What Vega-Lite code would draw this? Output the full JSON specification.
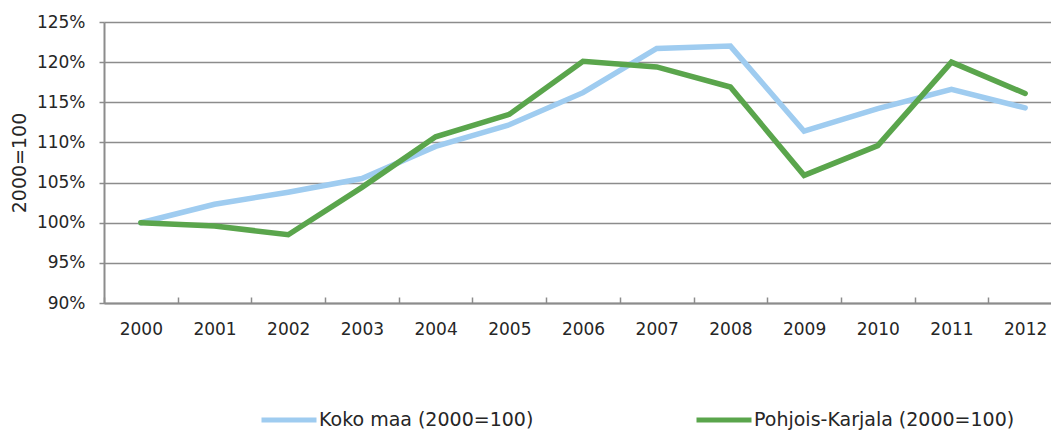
{
  "$schema": "https://vega.github.io/schema/vega-lite/v6.json",
  "width": 958,
  "height": 281,
  "autosize": {"type": "none"},
  "padding": {"left": 104, "top": 22, "right": 0, "bottom": 127},
  "background": "white",
  "config": {"view": {"stroke": null}, "font": "DejaVu Sans"},
  "data": {
    "values": [
      {"year": "2000", "series": "Koko maa (2000=100)", "value": 100.0},
      {"year": "2001", "series": "Koko maa (2000=100)", "value": 102.3},
      {"year": "2002", "series": "Koko maa (2000=100)", "value": 103.8},
      {"year": "2003", "series": "Koko maa (2000=100)", "value": 105.5},
      {"year": "2004", "series": "Koko maa (2000=100)", "value": 109.5},
      {"year": "2005", "series": "Koko maa (2000=100)", "value": 112.2},
      {"year": "2006", "series": "Koko maa (2000=100)", "value": 116.2},
      {"year": "2007", "series": "Koko maa (2000=100)", "value": 121.7},
      {"year": "2008", "series": "Koko maa (2000=100)", "value": 122.0},
      {"year": "2009", "series": "Koko maa (2000=100)", "value": 111.4},
      {"year": "2010", "series": "Koko maa (2000=100)", "value": 114.2},
      {"year": "2011", "series": "Koko maa (2000=100)", "value": 116.6},
      {"year": "2012", "series": "Koko maa (2000=100)", "value": 114.3},
      {"year": "2000", "series": "Pohjois-Karjala (2000=100)", "value": 100.0},
      {"year": "2001", "series": "Pohjois-Karjala (2000=100)", "value": 99.6},
      {"year": "2002", "series": "Pohjois-Karjala (2000=100)", "value": 98.5},
      {"year": "2003", "series": "Pohjois-Karjala (2000=100)", "value": 104.4},
      {"year": "2004", "series": "Pohjois-Karjala (2000=100)", "value": 110.7},
      {"year": "2005", "series": "Pohjois-Karjala (2000=100)", "value": 113.5},
      {"year": "2006", "series": "Pohjois-Karjala (2000=100)", "value": 120.1},
      {"year": "2007", "series": "Pohjois-Karjala (2000=100)", "value": 119.4},
      {"year": "2008", "series": "Pohjois-Karjala (2000=100)", "value": 116.9},
      {"year": "2009", "series": "Pohjois-Karjala (2000=100)", "value": 105.9},
      {"year": "2010", "series": "Pohjois-Karjala (2000=100)", "value": 109.6},
      {"year": "2011", "series": "Pohjois-Karjala (2000=100)", "value": 120.0},
      {"year": "2012", "series": "Pohjois-Karjala (2000=100)", "value": 116.1}
    ]
  },
  "mark": {"type": "line", "strokeWidth": 5.5, "strokeCap": "round"},
  "encoding": {
    "x": {
      "field": "year",
      "type": "ordinal",
      "bandPosition": 0.5,
      "scale": {"type": "band", "paddingInner": 0, "paddingOuter": 0},
      "axis": {
        "title": null,
        "tickBand": "extent",
        "labelAngle": 0,
        "grid": false,
        "domainColor": "#8c8c8c",
        "domainWidth": 2,
        "tickColor": "#8c8c8c",
        "tickWidth": 1.5,
        "tickSize": -6,
        "labelPadding": 24,
        "labelFontSize": 17,
        "labelColor": "#262626"
      }
    },
    "y": {
      "field": "value",
      "type": "quantitative",
      "scale": {"domain": [90, 125], "zero": false, "nice": false},
      "axis": {
        "values": [90, 95, 100, 105, 110, 115, 120, 125],
        "labelExpr": "datum.value + '%'",
        "title": "2000=100",
        "titleFontSize": 19,
        "titleFontWeight": "normal",
        "titleColor": "#262626",
        "titleX": -79,
        "titleY": 140.5,
        "titleAngle": -90,
        "titleAlign": "center",
        "titleBaseline": "alphabetic",
        "grid": true,
        "gridColor": "#8c8c8c",
        "gridWidth": 1.5,
        "domainColor": "#8c8c8c",
        "domainWidth": 2,
        "tickColor": "#8c8c8c",
        "tickWidth": 1.5,
        "tickSize": 5,
        "labelPadding": 14,
        "labelFontSize": 17,
        "labelColor": "#262626"
      }
    },
    "color": {
      "field": "series",
      "type": "nominal",
      "scale": {
        "domain": ["Koko maa (2000=100)", "Pohjois-Karjala (2000=100)"],
        "range": ["#9fccf0", "#5aa54c"]
      },
      "legend": {
        "orient": "none",
        "legendX": 155,
        "legendY": 368,
        "direction": "horizontal",
        "title": null,
        "symbolType": "stroke",
        "symbolSize": 3025,
        "symbolStrokeWidth": 5,
        "labelFontSize": 19,
        "labelOffset": 0,
        "labelLimit": 400,
        "columnPadding": 152,
        "labelColor": "#262626"
      }
    }
  }
}
